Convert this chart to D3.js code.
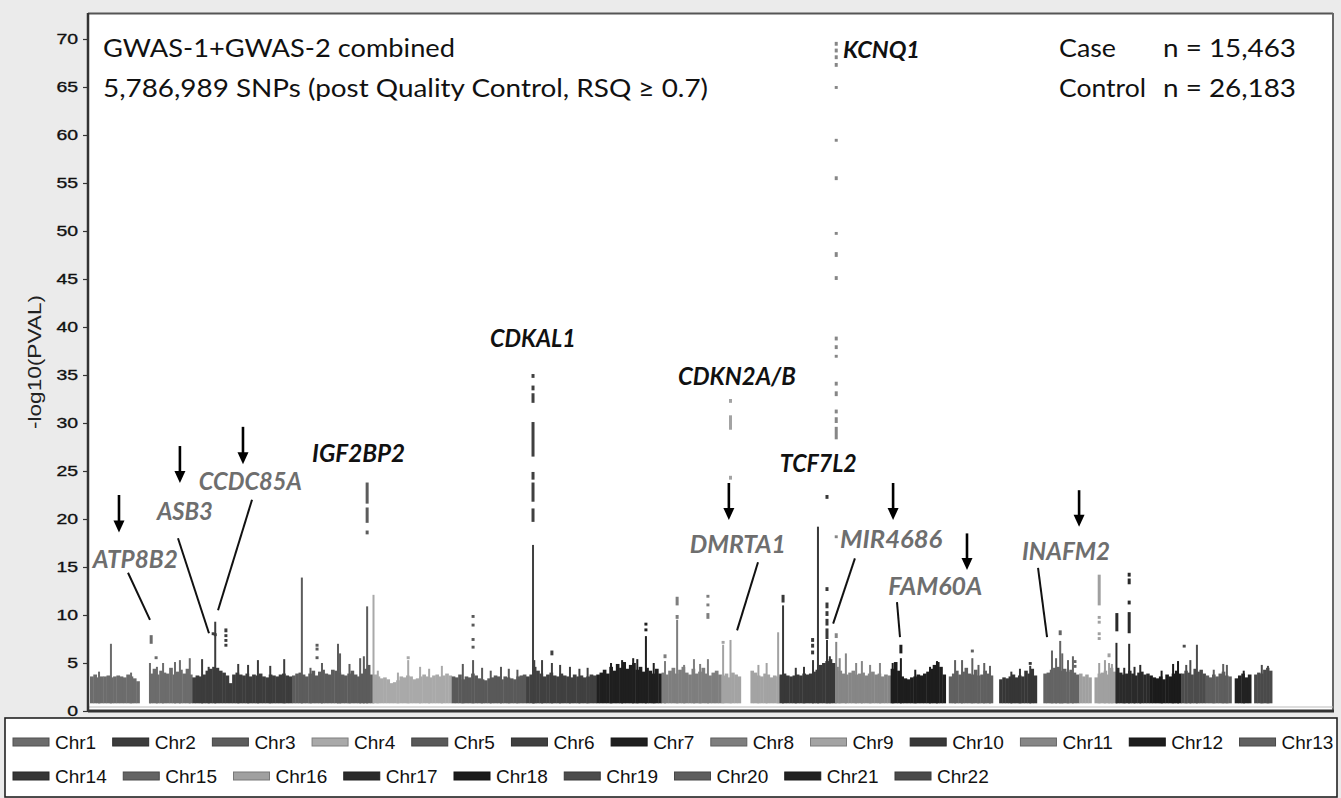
<!DOCTYPE html>
<html>
<head>
<meta charset="utf-8">
<script src="https://cdn.jsdelivr.net/npm/d3@7"></script>
<style>
  html, body { margin: 0; padding: 0; background: #ebebeb; }
  svg { display: block; }
  .tick text { font-family: "Liberation Sans", Arial, sans-serif; }
</style>
</head>
<body>
<svg id="chart" width="1341" height="798"></svg>
<script>
// ---- data ----
const chromosomes = ["Chr1","Chr2","Chr3","Chr4","Chr5","Chr6","Chr7","Chr8","Chr9","Chr10","Chr11",
  "Chr12","Chr13","Chr14","Chr15","Chr16","Chr17","Chr18","Chr19","Chr20","Chr21","Chr22"];
const chrLengthsMb = [249,243,198,191,181,171,159,146,141,136,135,134,115,107,103,90,81,78,59,63,48,51];
const chrColors = ["#6c6c6c","#3c3c3c","#5c5c5c","#a9a9a9","#595959","#404040","#1f1f1f","#7e7e7e",
  "#a3a3a3","#383838","#868686","#1d1d1d","#606060","#363636","#646464","#a0a0a0","#2a2a2a",
  "#1b1b1b","#4c4c4c","#5e5e5e","#222222","#4a4a4a"];

// dense background of SNPs: top -log10(p) per even bin along each chromosome (null = no SNPs)
const skylineHeights = [
  [3.6,3.8,3.5,3.6,3.6,3.7,3.5,3.6,3.7,3.6,3.5,3.8,3.6,3.4,3.1,null,null,null,3.9,4.4,3.8,4.2,4.0,3.9,4.5,3.8,4.1,4.3,3.9,4.4,3.8],
  [3.5,3.7,3.6,3.8,4.2,4.4,4.6,4.5,4.2,4.0,3.7,2.9,3.8,4.0,3.8,3.7,3.9,3.6,3.8,3.7,3.9,3.6,3.5,3.8,3.7,3.6,3.8,3.9,3.7,3.6],
  [3.7,3.9,4.0,3.8,3.6,3.9,4.2,3.7,4.1,4.3,3.9,3.8,4.3,4.2,4.0,3.8,3.7,3.9,4.2,3.8,3.6,3.9,4.4,4.8,3.8],
  [3.8,3.6,3.4,3.5,3.3,2.9,3.0,3.2,3.6,3.5,3.7,3.6,3.3,3.4,3.6,3.8,3.6,3.5,3.7,3.8,3.6,3.7,3.9,3.7],
  [3.6,3.5,3.8,3.3,3.6,3.5,3.9,3.7,3.4,3.3,3.2,3.4,3.5,3.7,3.6,3.3,3.6,3.5,3.4,3.3,3.6,3.7,3.8],
  [3.6,3.8,4.6,4.2,3.9,3.6,3.8,4.0,3.7,3.6,3.9,3.7,3.6,3.5,3.8,3.6,3.7,3.5,3.6,3.8,3.7],
  [3.8,4.0,4.3,3.9,4.6,4.2,4.9,4.5,5.1,4.4,4.8,5.0,4.3,4.6,4.1,4.5,4.2,3.9,4.4,3.9],
  [4.0,3.8,4.2,4.5,3.9,4.3,4.6,4.0,3.8,4.4,3.9,4.1,4.5,3.9,3.7,4.0,4.2,3.8],
  [3.7,3.9,3.5,4.0,3.8,3.6,null,null,null,4.2,4.0,3.7,3.6,3.9,3.8,3.5,3.7,3.6],
  [3.8,3.9,3.7,3.6,3.7,3.8,3.7,3.9,3.8,3.9,4.1,4.3,4.8,5.0,5.2,5.4,5.0],
  [4.6,4.2,3.9,3.8,4.0,4.2,3.8,3.9,4.0,3.7,3.9,4.1,3.8,3.9,3.6,3.8,3.7],
  [4.4,5.1,4.2,3.6,3.4,3.3,3.5,3.6,3.8,3.7,3.9,4.1,4.4,4.8,5.1,4.6,3.8],
  [null,3.6,3.9,4.2,3.8,4.1,4.5,3.9,3.8,4.3,3.7,3.8,4.2,3.9,3.7],
  [null,null,3.3,3.5,3.4,3.6,3.8,3.5,3.7,3.6,4.2,3.9,4.4,3.7],
  [null,null,3.9,4.0,4.3,4.5,4.6,4.2,4.4,4.1,4.3,4.0,3.8],
  [3.9,3.6,3.8,3.5,null,3.5,3.9,4.0,4.2,3.8,4.5,4.1],
  [4.5,4.0,3.8,3.9,4.2,3.9,3.7,4.0,4.1,3.8,3.9],
  [3.7,3.5,3.4,3.6,3.3,3.8,3.6,3.9,4.2,3.9],
  [3.9,4.2,4.0,3.8,4.4,4.1,4.3,3.9],
  [3.7,3.5,3.8,3.6,3.9,4.1,3.7,3.6],
  [null,3.4,3.7,3.9,3.5,3.8],
  [null,3.8,4.0,3.9,4.3,4.5,4.2]
];

// solid SNP spikes rising from the background: [chromosome, position Mb, top -log10(p)]
const spikeLines = [
  [1,22,4.1],[1,51,7.0],[1,100,4.0],[1,146,5.0],[1,163,4.6],[1,178,5.0],[1,207,5.1],[1,219,5.3],[1,243,5.5],
  [2,24,5.4],[2,40,4.6],[2,56,9.3],[2,112,4.9],[2,136,4.8],[2,160,5.3],[2,190,4.7],[2,224,5.4],
  [3,24,13.9],[3,45,4.5],[3,73,5.0],[3,112,7.0],[3,117,6.0],[3,140,4.9],[3,166,5.5],[3,175,5.7],[3,183,10.9],
  [4,0.5,12.1],[4,11,4.2],[4,60,4.0],[4,85,5.3],[4,114,4.6],[4,136,4.4],[4,167,4.7],
  [5,27,4.9],[5,52,5.3],[5,74,4.5],[5,95,4.2],[5,120,4.6],[5,139,4.4],[5,160,4.3],
  [6,17,17.3],[6,20,5.3],[6,39,5.3],[6,63,5.0],[6,83,4.8],[6,107,4.6],[6,130,4.4],[6,150,4.5],
  [7,36,5.0],[7,63,5.3],[7,90,5.5],[7,100,5.4],[7,121,7.8],[7,140,5.0],
  [8,8.5,5.2],[8,38,9.5],[8,55,4.8],[8,79,5.4],[8,94,4.9],[8,113,5.4],
  [9,4,6.9],[9,22,7.4],[9,90,4.8],[9,110,5.0],[9,138,8.2],
  [10,9,11.0],[10,40,4.5],[10,60,4.6],[10,82,5.3],[10,94,19.2],[10,116,7.4],[10,123,5.7],
  [11,2.5,7.2],[11,11,5.5],[11,26,6.0],[11,51,5.0],[11,65,5.2],[11,85,4.8],[11,109,5.0],
  [12,5,5.0],[12,25,5.5],[12,60,4.3],[12,96,4.6],[12,113,5.2],
  [13,23,5.3],[13,40,5.3],[13,65,5.5],[13,80,4.8],[13,94,5.0],[13,108,4.7],
  [14,45,4.1],[14,66,4.4],[14,91,4.7],
  [15,37,6.3],[15,47,5.5],[15,57,7.3],[15,62,6.0],[15,76,5.3],[15,88,5.7],
  [16,49,5.0],[16,63,5.3],[16,73,5.0],[16,80,4.9],
  [17,1,7.1],[17,20,4.5],[17,32,7.0],[17,45,4.6],[17,59,4.8],
  [18,30,4.2],[18,58,4.9],[18,70,5.2],
  [19,12,4.8],[19,22,5.3],[19,38,6.9],
  [20,20,4.3],[20,43,4.9],[20,52,4.8],
  [21,30,4.2],
  [22,26,4.8],[22,41,4.7]
];

// separate SNP points / runs of points above the spikes: [chromosome, position Mb, low, high]
const pointRuns = [
  [1,149,7.0,7.9],[1,161,5.4,5.7],
  [2,51,7.9,8.2],[2,56,7.8,8.1],[2,82,8.2,8.6],[2,82,7.7,8.0],[2,82,7.2,7.5],[2,82,6.7,7.0],
  [3,61,6.7,7.0],[3,61,6.3,6.6],[3,61,5.4,5.7],[3,183,18.4,18.8],[3,183,19.6,21.2],[3,183,21.6,23.8],
  [4,85,5.4,5.7],
  [5,52,9.7,10.0],[5,52,8.8,9.1],[5,52,7.3,7.6],[5,52,6.5,6.8],
  [6,17,34.7,35.1],[6,17,33.4,33.9],[6,17,32.1,33.1],[6,17,26.5,30.1],[6,17,24.1,24.9],
  [6,17,21.8,23.8],[6,17,19.7,21.1],[6,63,5.8,6.3],
  [7,121,8.3,8.6],[7,121,8.9,9.2],
  [8,8.5,5.5,5.9],[8,38,11.0,11.9],[8,38,9.6,10.0],[8,113,11.8,12.1],[8,113,10.9,11.2],[8,113,9.6,10.2],
  [9,4,7.0,7.3],[9,22,32.1,32.5],[9,22,29.3,30.8],[9,22,24.1,24.5],
  [10,9,11.3,12.1],[10,81,7.2,7.6],[10,81,6.6,7.0],[10,81,5.9,6.3],
  [10,116,22.1,22.5],[10,116,12.5,12.9],[10,116,10.7,11.3],[10,116,9.9,10.4],[10,116,8.9,9.6],[10,116,7.5,8.6],
  [11,2.5,69.3,69.7],[11,2.5,68.6,69.0],[11,2.5,67.9,68.3],[11,2.5,67.1,67.5],[11,2.5,64.8,65.1],
  [11,2.5,59.3,59.6],[11,2.5,55.3,55.7],[11,2.5,49.6,49.9],[11,2.5,47.3,47.8],[11,2.5,44.9,45.3],
  [11,2.5,38.6,39.0],[11,2.5,37.7,38.1],[11,2.5,36.8,37.1],[11,2.5,33.9,34.3],[11,2.5,32.8,33.3],
  [11,2.5,31.0,31.4],[11,2.5,30.0,30.6],[11,2.5,28.3,29.6],[11,2.5,18.0,18.3],[11,2.5,7.6,8.1],
  [12,25,6.0,6.9],
  [13,65,6.1,6.4],
  [14,91,4.9,5.1],
  [15,57,7.9,8.4],[15,93,5.0,5.3],[15,93,4.5,4.8],
  [16,49,11.0,14.2],[16,49,9.6,9.9],[16,49,9.1,9.4],[16,49,7.9,8.2],[16,49,7.4,7.7],[16,73,5.6,6.0],
  [17,2,8.3,10.2],[17,32,14.0,14.4],[17,32,13.2,13.8],[17,32,11.1,11.5],[17,32,8.1,10.3],
  [19,7,6.7,6.9]
];

const yTicks = [0,5,10,15,20,25,30,35,40,45,50,55,60,65,70];

// gene annotations, in genome Mb (cumulative) and -log10(p)
const knownGenes = ["KCNQ1","CDKAL1","CDKN2A/B","TCF7L2","IGF2BP2"];
const knownGeneAt = [[1834,68.0],[974,37.9],[1432,34.0],[1680,24.9],[541,25.9]];
const novelGenes = ["ATP8B2","ASB3","CCDC85A","DMRTA1","MIR4686","FAM60A","INAFM2"];
const novelGeneAt = [[7,14.9],[163,19.9],[265,23.0],[1461,16.5],[1827,17.0],[1944,12.1],[2270,15.7]];
const novelArrows = [[70.6,22.5,18.6],[219,27.6,23.75],[372.6,29.6,25.7],[1556,23.75,19.9],
  [1956,23.75,19.9],[2136,18.5,14.7],[2409,23.0,19.2]];
const novelLeaders = [[92.6,14.4,146.1,9.5],[214.3,18.0,289.8,8.1],[394.6,22.0,311.8,10.5],
  [1627,15.5,1576,8.4],[1863,15.9,1810,9.1],[1965.5,11.35,1972.8,7.7],[2309,14.9,2331,7.7]];

// ---- layout ----
const svg = d3.select("#chart");
const width = +svg.attr("width");
const height = +svg.attr("height");
const plot = { left: 88, top: 13, right: 1333, bottom: 711 };
const baseValue = 0.8;

const chrOffsets = [0, ...d3.cumsum(chrLengthsMb)].slice(0, chromosomes.length);

const x = d3.scaleLinear().domain([0, 3025]).range([90, 1332]);
const y = d3.scaleLinear().domain([0, 70]).range([711, 39]);
const gpos = (chr, pos) => chrOffsets[chr - 1] + pos;

svg.append("rect").attr("width", width).attr("height", height).attr("fill", "#ebebeb");
svg.append("rect")
  .attr("x", plot.left).attr("y", plot.top)
  .attr("width", plot.right - plot.left).attr("height", plot.bottom - plot.top)
  .attr("fill", "#fff");

// background skyline
const bins = [];
skylineHeights.forEach((vals, i) => {
  const w = chrLengthsMb[i] / vals.length;
  vals.forEach((v, j) => {
    if (v !== null) bins.push({ chr: i, a: chrOffsets[i] + j * w, b: chrOffsets[i] + (j + 1) * w, v });
  });
});

svg.append("g").selectAll("rect")
  .data(bins)
  .join("rect")
  .attr("x", d => x(d.a))
  .attr("width", d => x(d.b) - x(d.a) + 0.4)
  .attr("y", d => y(d.v))
  .attr("height", d => y(baseValue) - y(d.v))
  .attr("fill", d => chrColors[d.chr]);

svg.append("g").selectAll("rect")
  .data(spikeLines)
  .join("rect")
  .attr("x", d => x(gpos(d[0], d[1])) - 1)
  .attr("width", 2)
  .attr("y", d => y(d[2]))
  .attr("height", d => y(baseValue) - y(d[2]))
  .attr("fill", d => chrColors[d[0] - 1]);

svg.append("g").selectAll("rect")
  .data(pointRuns)
  .join("rect")
  .attr("x", d => x(gpos(d[0], d[1])) - 1.5)
  .attr("width", 3)
  .attr("y", d => y(d[3]))
  .attr("height", d => Math.max(2.8, y(d[2]) - y(d[3])))
  .attr("fill", d => chrColors[d[0] - 1]);

// frame and axes
svg.append("line")
  .attr("x1", plot.left).attr("x2", plot.right)
  .attr("y1", plot.top + 0.5).attr("y2", plot.top + 0.5)
  .attr("stroke", "#555").attr("stroke-width", 2);
svg.append("line")
  .attr("x1", plot.right).attr("x2", plot.right)
  .attr("y1", plot.top).attr("y2", plot.bottom)
  .attr("stroke", "#666").attr("stroke-width", 2);
svg.append("line")
  .attr("x1", plot.left).attr("x2", plot.right)
  .attr("y1", 707).attr("y2", 707)
  .attr("stroke", "#bbb").attr("stroke-width", 1);
svg.append("line")
  .attr("x1", plot.left).attr("x2", plot.right + 1)
  .attr("y1", plot.bottom).attr("y2", plot.bottom)
  .attr("stroke", "#333").attr("stroke-width", 3);

const yAxis = svg.append("g")
  .attr("transform", `translate(${plot.left}, 0)`)
  .call(d3.axisLeft(y).tickValues(yTicks).tickSize(5).tickPadding(5));
yAxis.select(".domain").remove();
yAxis.selectAll(".tick line").attr("stroke", "#333").attr("stroke-width", 1.2);
yAxis.selectAll(".tick text")
  .attr("fill", "#111")
  .attr("stroke", "#111")
  .attr("stroke-width", 0.35)
  .style("font-size", "15px")
  .attr("textLength", d => String(d).length * 10.8)
  .attr("lengthAdjust", "spacingAndGlyphs");
svg.append("line")
  .attr("x1", plot.left).attr("x2", plot.left)
  .attr("y1", plot.top).attr("y2", plot.bottom + 1)
  .attr("stroke", "#333").attr("stroke-width", 2.5);

svg.append("text")
  .attr("transform", "translate(41, 362) rotate(-90)")
  .attr("text-anchor", "middle")
  .style("font-family", "'Liberation Sans', Arial, sans-serif")
  .style("font-size", "18px")
  .attr("fill", "#222")
  .attr("textLength", 134)
  .attr("lengthAdjust", "spacingAndGlyphs")
  .text("-log10(PVAL)");

// header texts
const headFont = "Lato, 'Open Sans', sans-serif";
function headText(tx, ty, str, len) {
  svg.append("text")
    .attr("x", tx).attr("y", ty)
    .style("font-family", headFont)
    .style("font-size", "25px")
    .attr("fill", "#111")
    .attr("textLength", len)
    .attr("lengthAdjust", "spacingAndGlyphs")
    .text(str);
}
headText(103, 57, "GWAS-1+GWAS-2 combined", 352);
headText(103, 97, "5,786,989 SNPs (post Quality Control, RSQ \u2265 0.7)", 605);
headText(1059, 57, "Case", 57);
headText(1163, 57, "n = 15,463", 133);
headText(1059, 97, "Control", 87);
headText(1163, 97, "n = 26,183", 133);

// gene labels
const knownWidths = [77, 86, 118, 77, 93];
const novelWidths = [85, 56, 103, 96, 102, 94, 88];

svg.append("g").selectAll("text")
  .data(knownGenes)
  .join("text")
  .attr("x", (d, i) => x(knownGeneAt[i][0]))
  .attr("y", (d, i) => y(knownGeneAt[i][1]))
  .style("font-family", headFont)
  .style("font-weight", 700)
  .style("font-style", "italic")
  .style("font-size", (d, i) => i === 0 ? "22px" : "25px")
  .attr("fill", "#111")
  .attr("textLength", (d, i) => knownWidths[i])
  .attr("lengthAdjust", "spacingAndGlyphs")
  .text(d => d);

svg.append("g").selectAll("text")
  .data(novelGenes)
  .join("text")
  .attr("x", (d, i) => x(novelGeneAt[i][0]))
  .attr("y", (d, i) => y(novelGeneAt[i][1]))
  .style("font-family", headFont)
  .style("font-weight", 700)
  .style("font-style", "italic")
  .style("font-size", "25px")
  .attr("fill", "#6e6e6e")
  .attr("textLength", (d, i) => novelWidths[i])
  .attr("lengthAdjust", "spacingAndGlyphs")
  .text(d => d);

svg.append("g").selectAll("line")
  .data(novelLeaders)
  .join("line")
  .attr("x1", d => x(d[0])).attr("y1", d => y(d[1]))
  .attr("x2", d => x(d[2])).attr("y2", d => y(d[3]))
  .attr("stroke", "#111").attr("stroke-width", 2);

const arrows = svg.append("g").selectAll("g")
  .data(novelArrows)
  .join("g");
arrows.append("line")
  .attr("x1", d => x(d[0])).attr("x2", d => x(d[0]))
  .attr("y1", d => y(d[1])).attr("y2", d => y(d[2]) - 10)
  .attr("stroke", "#000").attr("stroke-width", 2.6);
arrows.append("path")
  .attr("d", d => {
    const ax = x(d[0]), ay = y(d[2]);
    return `M${ax - 5.5},${ay - 12}L${ax + 5.5},${ay - 12}L${ax},${ay}Z`;
  })
  .attr("fill", "#000");

// legend
const legendBox = { x: 5, y: 718, w: 1332, h: 79 };
svg.append("rect")
  .attr("x", legendBox.x).attr("y", legendBox.y)
  .attr("width", legendBox.w).attr("height", legendBox.h)
  .attr("fill", "#fff").attr("stroke", "#222").attr("stroke-width", 1.6);

const legendRows = [chromosomes.slice(0, 13), chromosomes.slice(13)];
const rowY = [742, 776];
legendRows.forEach((row, r) => {
  let cx = 13;
  row.forEach(name => {
    const i = chromosomes.indexOf(name);
    const item = svg.append("g").attr("transform", `translate(${cx}, ${rowY[r]})`);
    item.append("rect")
      .attr("x", 0).attr("y", -4)
      .attr("width", 36).attr("height", 8)
      .attr("fill", chrColors[i])
      .attr("stroke", d3.color(chrColors[i]).darker(0.8))
      .attr("stroke-width", 1);
    const t = item.append("text")
      .attr("x", 42).attr("y", 7)
      .style("font-family", "'Liberation Sans', Arial, sans-serif")
      .style("font-size", "19px")
      .attr("fill", "#111")
      .text(name);
    cx += 42 + t.node().getComputedTextLength() + 16.5;
  });
});
</script>
</body>
</html>
